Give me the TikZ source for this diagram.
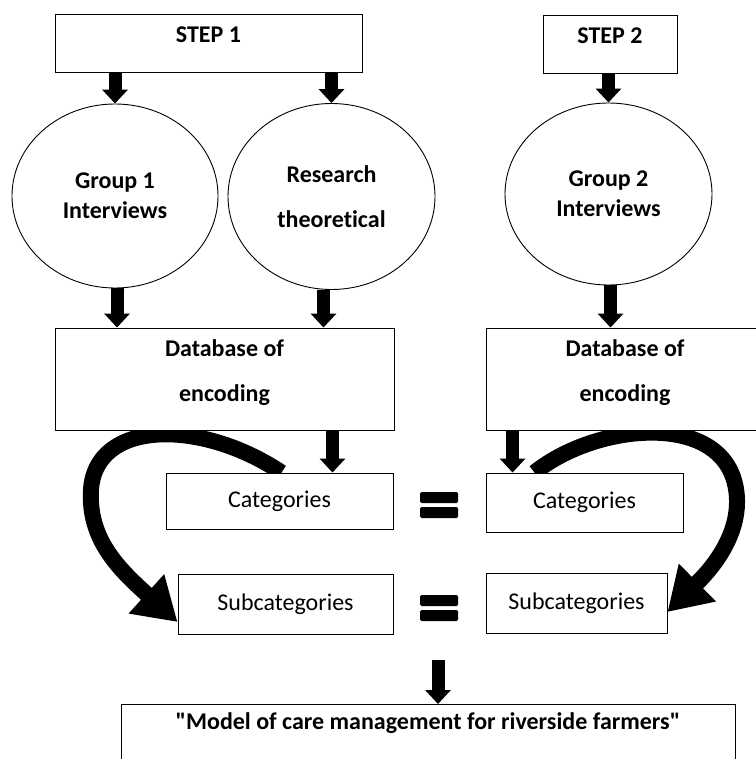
\documentclass[tikz,border=0pt]{standalone}
\usepackage{fontspec}
\setmainfont{Carlito}[Ligatures={TeXOff,NoCommon}]
\usetikzlibrary{arrows.meta,shapes.geometric,backgrounds}

\begin{document}
\begin{tikzpicture}[x=1pt, y=-1pt,
    box/.style={draw, line width=0.9pt, fill=white, inner sep=0pt,
      font=\fontsize{24}{30}\selectfont},
    stepbox/.style={box, minimum height=58pt, text height=16pt, text depth=16pt,
      font=\bfseries\fontsize{24}{30}\selectfont},
    bubble/.style={ellipse, draw, line width=0.9pt, fill=white, inner sep=0pt,
      align=center, font=\bfseries\fontsize{24}{30}\selectfont},
    dbbox/.style={box, minimum height=102pt, align=center, text height=60pt, text depth=16pt,
      font=\bfseries\fontsize{24}{45}\selectfont},
    downarrow/.style={line width=13pt, -{Triangle[width=25pt,length=14pt]}},
    bigarrow/.style={line width=16pt, -{Triangle[width=50pt,length=42pt]}}]
  \useasboundingbox (0,0) rectangle (755,759);
  % top row
  \node[stepbox, minimum width=307pt] (step1) at (208.5,43) {STEP 1};
  \node[stepbox, minimum width=134pt] (step2) at (610,44) {STEP 2};
  \node[bubble, minimum width=206pt, minimum height=184pt] (g1) at (115,196) {Group 1\\Interviews};
  \node[bubble, minimum width=207pt, minimum height=186pt,
    font=\bfseries\fontsize{24}{45}\selectfont] (res) at (331.5,196.5) {Research\\theoretical};
  \node[bubble, minimum width=207pt, minimum height=182pt] (g2) at (608.5,194) {Group 2\\Interviews};
  % coding
  \node[dbbox, minimum width=339pt] (db1) at (224.5,379) {Database of\\encoding};
  \node[dbbox, minimum width=278pt] (db2) at (625,379) {Database of\\encoding};
  \node[box, minimum width=227pt, minimum height=56pt] (cat1) at (279.5,501) {Categories};
  \node[box, minimum width=197pt, minimum height=59pt] (cat2) at (584.5,502.5) {Categories};
  \node[box, minimum width=215pt, minimum height=60pt] (sub1) at (285.5,604) {Subcategories};
  \node[box, minimum width=181pt, minimum height=60pt] (sub2) at (576.5,603) {Subcategories};
  \node[box, anchor=north, minimum width=614pt, minimum height=110pt, text height=16pt, text depth=75pt,
    font=\bfseries\fontsize{24}{30}\selectfont] (model) at (428,704) {"Model of care management for riverside farmers"};
  \coordinate (merge) at (438,660);

  % equal signs
  \foreach \y in {492,507,595,610}
    \fill[rounded corners=1.5pt] (420,\y) rectangle (458,\y+11);

  \draw[downarrow] (step1.south -| g1.north) -- (g1.north);
  \draw[downarrow] (step1.south -| res.north) -- (res.north);
  \draw[downarrow] (step2.south -| g2.north) -- (g2.north);
  \draw[downarrow] ([xshift=2pt]g1.south) -- ([xshift=2pt]g1.south |- db1.north);
  \draw[downarrow] ([xshift=-8pt]res.south) -- ([xshift=-8pt]res.south |- db1.north);
  \draw[downarrow] ([xshift=2pt]g2.south) -- ([xshift=2pt]g2.south |- db2.north);
  \draw[downarrow] ([xshift=-61pt]db1.south -| cat1.north east) -- ([xshift=-61pt]cat1.north east);
  \draw[downarrow] ([xshift=27pt]db2.south west) -- ([xshift=27pt]cat2.north west);
  \draw[downarrow] (merge) -- (merge |- model.north);

  \begin{pgfonlayer}{background}
    \draw[bigarrow] ([xshift=2pt]cat1.north) .. controls (200,418) and (95,420) .. (91,490)
      .. controls (88,540) and (120,570) .. ([yshift=-18pt]sub1.west);
    \draw[bigarrow] ([xshift=-50pt]cat2.north) .. controls (600,420) and (735,410) .. (737,500)
      .. controls (738,545) and (700,580) .. ([yshift=-9pt]sub2.east);
  \end{pgfonlayer}
\end{tikzpicture}
\end{document}
